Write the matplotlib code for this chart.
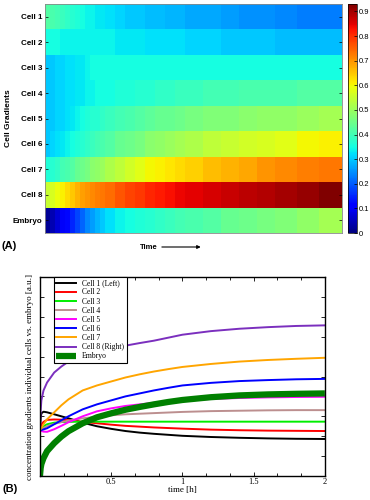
import numpy as np
import matplotlib
matplotlib.use("Agg")
import matplotlib.pyplot as plt
from matplotlib.ticker import MultipleLocator

# ---- panel A: heatmap ----
row_labels = ["Cell 1", "Cell 2", "Cell 3", "Cell 4", "Cell 5", "Cell 6", "Cell 7", "Cell 8", "Embryo"]
time_edges = [0, 5, 10, 15, 20, 25, 30, 35, 40, 45, 50, 55, 60, 70, 80, 90, 100, 110,
              120, 130, 140, 158, 176, 194, 212, 230, 252, 274, 297]

cell1 = [0.42, 0.41, 0.40, 0.39, 0.38, 0.37, 0.36, 0.35, 0.34, 0.34, 0.33, 0.33, 0.32, 0.31,
         0.30, 0.30, 0.29, 0.29, 0.28, 0.28, 0.27, 0.27, 0.26, 0.25, 0.25, 0.24, 0.23, 0.23]
cell2 = [0.35, 0.35, 0.35, 0.34, 0.34, 0.34, 0.34, 0.34, 0.34, 0.34, 0.34, 0.34, 0.34, 0.33,
         0.33, 0.33, 0.32, 0.32, 0.32, 0.32, 0.31, 0.31, 0.30, 0.30, 0.30, 0.29, 0.29, 0.29]
cell3 = [0.30, 0.30, 0.31, 0.31, 0.32, 0.32, 0.33, 0.33, 0.34, 0.35, 0.35, 0.35, 0.35, 0.35,
         0.35, 0.35, 0.35, 0.35, 0.35, 0.35, 0.35, 0.35, 0.35, 0.35, 0.35, 0.35, 0.35, 0.35]
cell4 = [0.30, 0.30, 0.31, 0.31, 0.32, 0.32, 0.33, 0.33, 0.34, 0.34, 0.35, 0.35, 0.35, 0.36,
         0.36, 0.37, 0.37, 0.38, 0.38, 0.39, 0.39, 0.40, 0.40, 0.41, 0.41, 0.41, 0.42, 0.42]
cell5 = [0.30, 0.30, 0.31, 0.31, 0.32, 0.33, 0.34, 0.35, 0.36, 0.37, 0.37, 0.38, 0.39, 0.40,
         0.41, 0.42, 0.43, 0.44, 0.44, 0.45, 0.46, 0.47, 0.47, 0.48, 0.49, 0.49, 0.50, 0.51]
cell6 = [0.30, 0.31, 0.32, 0.33, 0.34, 0.35, 0.36, 0.37, 0.38, 0.39, 0.40, 0.41, 0.42, 0.44,
         0.45, 0.46, 0.48, 0.49, 0.50, 0.51, 0.52, 0.54, 0.55, 0.56, 0.57, 0.58, 0.60, 0.61]
cell7 = [0.36, 0.37, 0.38, 0.40, 0.41, 0.42, 0.44, 0.45, 0.46, 0.48, 0.49, 0.50, 0.52, 0.54,
         0.56, 0.58, 0.60, 0.61, 0.62, 0.63, 0.64, 0.66, 0.67, 0.68, 0.70, 0.71, 0.72, 0.73]
cell8 = [0.55, 0.57, 0.59, 0.61, 0.63, 0.65, 0.67, 0.69, 0.70, 0.71, 0.72, 0.73, 0.74, 0.76,
         0.78, 0.79, 0.81, 0.82, 0.83, 0.84, 0.85, 0.86, 0.87, 0.88, 0.89, 0.90, 0.91, 0.93]
embryo = [0.02, 0.04, 0.07, 0.10, 0.12, 0.15, 0.18, 0.21, 0.24, 0.26, 0.28, 0.30, 0.32, 0.34,
          0.35, 0.36, 0.37, 0.38, 0.39, 0.40, 0.41, 0.42, 0.44, 0.45, 0.46, 0.47, 0.49, 0.51]

# ---- panel B: lines ----
t_h = [0, 0.005, 0.01, 0.025, 0.05, 0.1, 0.15, 0.2, 0.3, 0.4, 0.5, 0.6, 0.7, 0.8, 0.9, 1.0,
       1.2, 1.4, 1.6, 1.8, 2.0]
c1 = [0.23, 0.29, 0.315, 0.323, 0.32, 0.31, 0.30, 0.29, 0.268, 0.25, 0.237, 0.226, 0.218,
      0.212, 0.207, 0.202, 0.196, 0.192, 0.189, 0.187, 0.186]
c2 = [0.23, 0.245, 0.258, 0.272, 0.282, 0.284, 0.283, 0.28, 0.272, 0.265, 0.258, 0.252, 0.248,
      0.244, 0.241, 0.238, 0.233, 0.23, 0.228, 0.227, 0.226]
c3 = [0.23, 0.235, 0.24, 0.25, 0.26, 0.268, 0.271, 0.272, 0.273, 0.273, 0.273, 0.273, 0.273,
      0.273, 0.273, 0.273, 0.273, 0.273, 0.273, 0.273, 0.273]
c4 = [0.23, 0.232, 0.234, 0.24, 0.25, 0.262, 0.271, 0.278, 0.29, 0.298, 0.305, 0.31, 0.313,
      0.316, 0.319, 0.322, 0.326, 0.328, 0.33, 0.331, 0.331]
c5 = [0.23, 0.228, 0.226, 0.223, 0.222, 0.235, 0.252, 0.27, 0.30, 0.325, 0.34, 0.352, 0.36,
      0.368, 0.375, 0.38, 0.387, 0.392, 0.395, 0.397, 0.398]
c6 = [0.23, 0.23, 0.231, 0.234, 0.24, 0.26, 0.28, 0.30, 0.335, 0.36, 0.38, 0.40, 0.415,
      0.43, 0.443, 0.455, 0.468, 0.477, 0.482, 0.486, 0.488]
c7 = [0.23, 0.235, 0.24, 0.26, 0.285, 0.32, 0.355, 0.385, 0.43, 0.455, 0.475, 0.495, 0.511,
      0.525, 0.537, 0.548, 0.563, 0.575, 0.583, 0.589, 0.594]
c8 = [0.23, 0.33, 0.38, 0.43, 0.47, 0.52, 0.55, 0.575, 0.605, 0.625, 0.64, 0.655, 0.668,
      0.68, 0.695, 0.71, 0.728, 0.74, 0.748, 0.754, 0.757]
emb = [0.0, 0.04, 0.06, 0.09, 0.125, 0.165, 0.198, 0.225, 0.265, 0.295, 0.315, 0.333, 0.347,
       0.36, 0.372, 0.382, 0.396, 0.405, 0.41, 0.413, 0.415]

line_names = ["Cell 1 (Left)", "Cell 2", "Cell 3", "Cell 4", "Cell 5", "Cell 6", "Cell 7", "Cell 8 (Right)"]
line_colors = ["black", "red", "#00ee00", "#bc8f8f", "magenta", "blue", "orange", "#7b2fbe"]

fig = plt.figure(figsize=(3.7, 5.0), dpi=100)

# heatmap
axA = fig.add_axes([0.1216, 0.534, 0.803, 0.458])
grid = np.array([cell1, cell2, cell3, cell4, cell5, cell6, cell7, cell8, embryo])
mesh = axA.pcolormesh(time_edges, np.arange(len(row_labels) + 1), grid,
                      cmap="jet", vmin=0, vmax=0.93, shading="flat")
axA.set_xlim(time_edges[0], time_edges[-1])
axA.set_ylim(len(row_labels), 0)
axA.set_yticks(np.arange(len(row_labels)) + 0.5)
axA.set_yticklabels(row_labels, fontsize=5.8, fontweight="bold", family="Liberation Sans")
axA.set_xticks([])
axA.tick_params(axis="y", direction="in", length=2, width=0.5, right=True, pad=2)
for s in axA.spines.values():
    s.set_color("#888888")
    s.set_linewidth(0.6)
axA.set_ylabel("Cell Gradients", fontsize=6, fontweight="bold", family="Liberation Sans")
axA.yaxis.set_label_coords(-0.112, 0.5)

cax = fig.add_axes([0.9405, 0.534, 0.0243, 0.458])
cb = fig.colorbar(mesh, cax=cax, ticks=np.arange(0, 1.0, 0.1))
cb.ax.set_yticklabels(["0"] + ["%.1f" % v for v in np.arange(0.1, 1.0, 0.1)])
cb.ax.tick_params(labelsize=5.5, direction="in", length=2, width=0.5, pad=1)
for lab in cb.ax.get_yticklabels():
    lab.set_family("Liberation Sans")
cb.outline.set_linewidth(0.5)

fig.text(0.003, 0.508, "(A)", fontsize=8, fontweight="bold", family="Liberation Sans", va="center")
fig.text(0.378, 0.505, "Time", fontsize=5.5, fontweight="bold", family="Liberation Sans", va="center")
fig.add_artist(matplotlib.patches.FancyArrowPatch((0.43, 0.506), (0.55, 0.506),
               transform=fig.transFigure, arrowstyle="-|>", mutation_scale=5, lw=0.8, color="black"))

# line plot
axB = fig.add_axes([0.108, 0.048, 0.770, 0.398])
for vals, name, col in zip([c1, c2, c3, c4, c5, c6, c7, c8], line_names, line_colors):
    axB.plot(t_h, vals, color=col, lw=1.4, label=name)
axB.plot(t_h, emb, color="#008000", lw=4.5, label="Embryo", solid_capstyle="butt")
axB.set_xlim(0, 2)
axB.set_ylim(0, 1)
axB.xaxis.set_major_locator(MultipleLocator(0.5))
axB.xaxis.set_minor_locator(MultipleLocator(1 / 6))
axB.yaxis.set_major_locator(MultipleLocator(0.1))
axB.set_yticklabels([])
axB.set_xticks([0.5, 1, 1.5, 2])
axB.set_xticklabels(["0.5", "1", "1.5", "2"], family="Liberation Serif", fontsize=6)
axB.tick_params(which="both", direction="in", top=True, right=True, width=0.6, pad=1.5)
axB.tick_params(which="major", length=3)
axB.tick_params(which="minor", length=2)
for s in axB.spines.values():
    s.set_linewidth(1.0)
axB.set_xlabel("time [h]", family="Liberation Serif", fontsize=6.5, labelpad=0)
axB.set_ylabel("concentration gradients individual cells vs. embryo [a.u.]",
               family="Liberation Serif", fontsize=6.5, labelpad=3)
leg = axB.legend(loc="upper left", bbox_to_anchor=(14 / 285, 1.0), borderaxespad=0,
                 prop={"family": "Liberation Serif", "size": 5.5}, fancybox=False,
                 edgecolor="black", framealpha=1, handlelength=2.6, labelspacing=0.15,
                 borderpad=0.3, handletextpad=0.8)
leg.get_frame().set_linewidth(0.8)

fig.text(0.008, 0.022, "(B)", fontsize=8, fontweight="bold", family="Liberation Sans", va="center")

fig.savefig("out.png", dpi=100)
